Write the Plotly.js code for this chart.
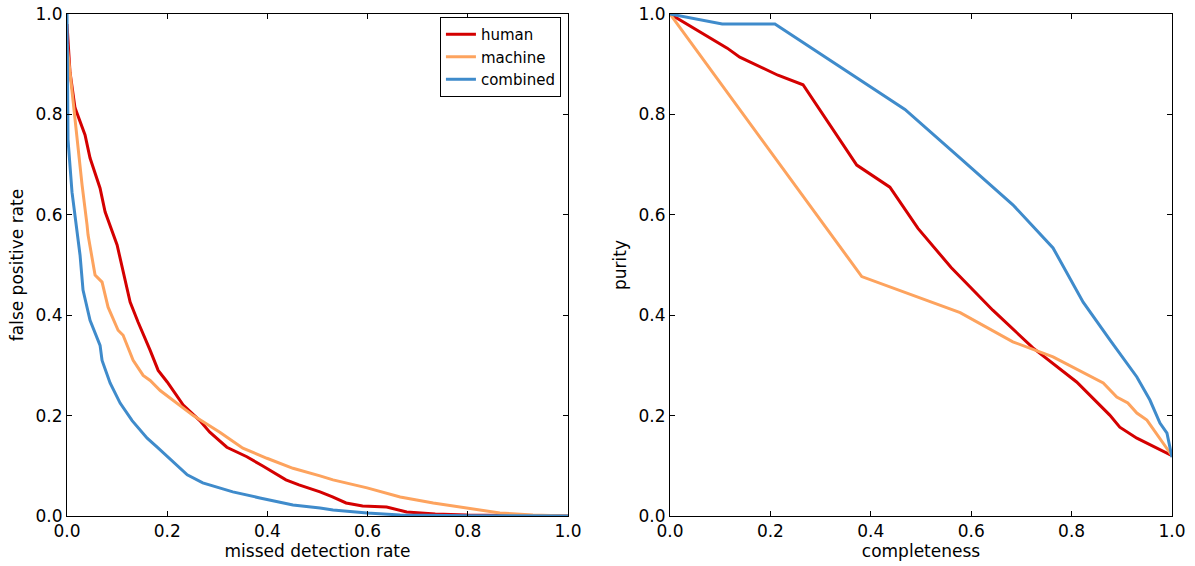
<!DOCTYPE html>
<html>
<head>
<meta charset="utf-8">
<script src="https://cdn.plot.ly/plotly-3.0.1.min.js"></script>
<style>html,body{margin:0;padding:0;background:#fff;}#chart{width:1195px;height:566px;}</style>
</head>
<body>
<div id="chart"></div>
<script>
// Left panel: missed detection rate vs false positive rate
const humanMiss = [0, 0.006, 0.016, 0.036, 0.046, 0.066, 0.076, 0.10, 0.126, 0.142, 0.166, 0.182, 0.2, 0.232, 0.265, 0.285, 0.319, 0.359, 0.39, 0.437, 0.463, 0.505, 0.53, 0.557, 0.59, 0.638, 0.678, 0.735, 0.798, 0.9, 1.0];
const humanFpr  = [0.98, 0.884, 0.813, 0.759, 0.713, 0.653, 0.606, 0.54, 0.426, 0.386, 0.33, 0.29, 0.267, 0.221, 0.19, 0.167, 0.137, 0.118, 0.10, 0.072, 0.062, 0.048, 0.038, 0.026, 0.02, 0.018, 0.008, 0.004, 0.002, 0.001, 0];
const machineMiss = [0, 0.006, 0.012, 0.02, 0.03, 0.04, 0.042, 0.056, 0.07, 0.082, 0.096, 0.102, 0.112, 0.132, 0.152, 0.166, 0.186, 0.22, 0.252, 0.305, 0.351, 0.399, 0.451, 0.505, 0.531, 0.599, 0.665, 0.731, 0.798, 0.864, 0.93, 1.0];
const machineFpr  = [0.94, 0.884, 0.83, 0.75, 0.66, 0.58, 0.56, 0.48, 0.466, 0.416, 0.386, 0.37, 0.36, 0.31, 0.28, 0.27, 0.25, 0.225, 0.20, 0.167, 0.135, 0.115, 0.095, 0.08, 0.072, 0.056, 0.038, 0.026, 0.016, 0.006, 0.002, 0];
const combinedMiss = [0, 0.0005, 0.002, 0.01, 0.016, 0.026, 0.032, 0.046, 0.066, 0.07, 0.086, 0.106, 0.13, 0.16, 0.18, 0.2, 0.22, 0.24, 0.271, 0.331, 0.385, 0.451, 0.505, 0.531, 0.599, 0.665, 0.8, 1.0];
const combinedFpr  = [1.0, 0.8, 0.75, 0.645, 0.6, 0.52, 0.45, 0.39, 0.34, 0.31, 0.265, 0.225, 0.19, 0.155, 0.137, 0.118, 0.10, 0.082, 0.066, 0.048, 0.036, 0.022, 0.016, 0.012, 0.006, 0.002, 0.0005, 0];

// Right panel: completeness vs purity
const humanComp = [0, 0.114, 0.139, 0.215, 0.265, 0.372, 0.438, 0.494, 0.560, 0.643, 0.723, 0.81, 0.876, 0.896, 0.93, 0.97, 1.0];
const humanPur  = [1.0, 0.932, 0.914, 0.878, 0.859, 0.699, 0.655, 0.573, 0.495, 0.41, 0.335, 0.267, 0.201, 0.177, 0.155, 0.135, 0.12];
const machineComp = [0, 0.382, 0.578, 0.683, 0.763, 0.863, 0.89, 0.912, 0.93, 0.95, 1.0];
const machinePur  = [1.0, 0.477, 0.405, 0.347, 0.317, 0.265, 0.237, 0.225, 0.205, 0.191, 0.12];
const combinedComp = [0, 0.104, 0.209, 0.468, 0.578, 0.683, 0.763, 0.823, 0.877, 0.93, 0.956, 0.976, 0.99, 1.0];
const combinedPur  = [1.0, 0.98, 0.98, 0.81, 0.713, 0.62, 0.534, 0.426, 0.35, 0.277, 0.231, 0.185, 0.165, 0.117];

const seriesNames = ['human', 'machine', 'combined'];
const colors = ['#d40000', '#fda35e', '#3f8bcb'];

const leftX = [humanMiss, machineMiss, combinedMiss];
const leftY = [humanFpr, machineFpr, combinedFpr];
const rightX = [humanComp, machineComp, combinedComp];
const rightY = [humanPur, machinePur, combinedPur];

const traces = [];
for (let i = 0; i < 3; i++) {
  traces.push({x: leftX[i], y: leftY[i], mode: 'lines', name: seriesNames[i],
    line: {color: colors[i], width: 3}, xaxis: 'x', yaxis: 'y', showlegend: true});
}
for (let i = 0; i < 3; i++) {
  traces.push({x: rightX[i], y: rightY[i], mode: 'lines', name: seriesNames[i],
    line: {color: colors[i], width: 3}, xaxis: 'x2', yaxis: 'y2', showlegend: false});
}

const font = {family: 'DejaVu Sans, sans-serif', size: 17, color: '#000'};
const axisBase = {
  range: [0, 1], dtick: 0.2, tick0: 0, tickformat: '.1f',
  ticks: 'inside', ticklen: 5, tickwidth: 1, tickcolor: '#000',
  showline: true, linecolor: '#000', linewidth: 1, mirror: 'allticks',
  showgrid: false, zeroline: false, tickfont: font, fixedrange: true
};

const layout = {
  width: 1195, height: 566,
  margin: {l: 67, r: 23, t: 14, b: 50},
  paper_bgcolor: '#fff', plot_bgcolor: '#fff',
  font: font,
  xaxis: Object.assign({}, axisBase, {domain: [0, 0.4534], anchor: 'y',
    title: {text: 'missed detection rate', font: font, standoff: 3}}),
  yaxis: Object.assign({}, axisBase, {domain: [0, 1], anchor: 'x',
    title: {text: 'false positive rate', font: font, standoff: 7}}),
  xaxis2: Object.assign({}, axisBase, {domain: [0.5457, 1], anchor: 'y2',
    title: {text: 'completeness', font: font, standoff: 3}}),
  yaxis2: Object.assign({}, axisBase, {domain: [0, 1], anchor: 'x2',
    title: {text: 'purity', font: font, standoff: 7}}),
  showlegend: true,
  legend: {x: 0.447, xanchor: 'right', y: 0.994, yanchor: 'top',
    bgcolor: '#fff', bordercolor: '#000', borderwidth: 1,
    font: {family: 'DejaVu Sans, sans-serif', size: 15, color: '#000'},
    tracegroupgap: 0}
};

Plotly.newPlot('chart', traces, layout, {displayModeBar: false, staticPlot: true});
</script>
</body>
</html>
